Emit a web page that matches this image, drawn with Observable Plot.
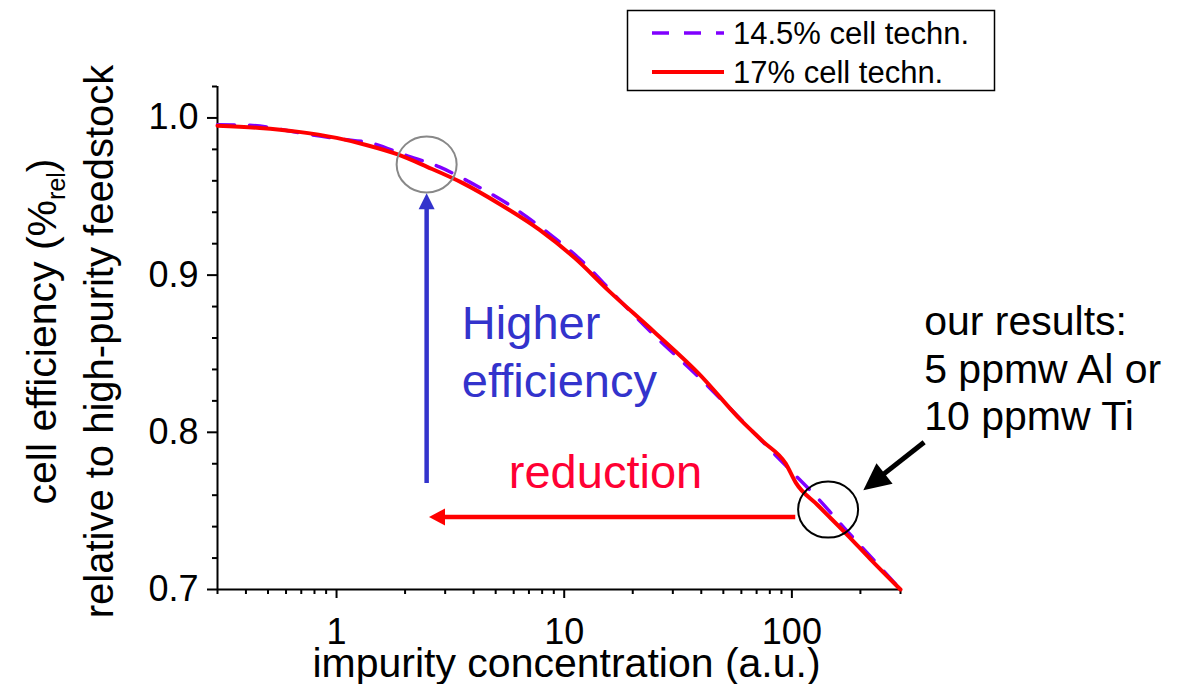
<!DOCTYPE html>
<html>
<head>
<meta charset="utf-8">
<script src="https://cdn.jsdelivr.net/npm/d3@7"></script>
<script src="https://cdn.jsdelivr.net/npm/@observablehq/plot@0.6"></script>
<style>
  html, body { margin: 0; padding: 0; background: #fff; }
  #wrap { position: relative; width: 1182px; height: 684px; font-family: "Liberation Sans", Arial, sans-serif; }
  #legend { position: absolute; left: 0; top: 0; }
</style>
</head>
<body>
<div id="wrap"></div>
<script>
// Relative cell efficiency vs. impurity concentration (log axis)
const seriesNames = ["14.5% cell techn.", "17% cell techn."];

// 14.5 % cell technology (dashed)
const lowX = [0.3, 0.4, 0.76, 1.03, 1.44, 1.99, 2.83, 3.83, 5.74, 8.6, 12.2, 18.3, 25.6, 35.3, 68, 94, 129, 174, 234, 300];
const lowY = [0.9956, 0.9954, 0.9895, 0.9867, 0.9838, 0.9765, 0.9688, 0.9593, 0.9447, 0.9263, 0.9078, 0.8811, 0.8599, 0.8411, 0.7998, 0.7788, 0.7585, 0.7375, 0.7172, 0.7];

// 17 % cell technology (solid)
const highX = [0.3, 0.46, 0.67, 1, 1.35, 1.83, 2.5, 3.57, 5.2, 7.8, 11.1, 15.7, 24.8, 39, 60, 75, 94, 104, 130, 178, 220, 300];
const highY = [0.995, 0.9936, 0.9913, 0.9873, 0.9828, 0.9771, 0.9689, 0.9587, 0.9453, 0.9288, 0.911, 0.89, 0.864, 0.8373, 0.8074, 0.7939, 0.7801, 0.768, 0.7536, 0.7337, 0.7197, 0.7];

// axis ticks
const xMajor = [1, 10, 100];
const xMinor = [0.3, 0.4, 0.5, 0.6, 0.7, 0.8, 0.9, 2, 3, 4, 5, 6, 7, 8, 9, 20, 30, 40, 50, 60, 70, 80, 90, 200, 300];
const yMajor = [0.7, 0.8, 0.9, 1.0];
const yMinor = [0.72, 0.74, 0.76, 0.78, 0.82, 0.84, 0.86, 0.88, 0.92, 0.94, 0.96, 0.98, 1.02];

const xTitle = "impurity concentration (a.u.)";
const yTitle1 = ["cell efficiency (%", "rel", ")"];
const yTitle2 = "relative to high-purity feedstock";

const lowData = lowX.map((x, i) => ({x, y: lowY[i]}));
const highData = highX.map((x, i) => ({x, y: highY[i]}));

const FONT = '"Liberation Sans", Arial, sans-serif';

const chart = Plot.plot({
  width: 1182,
  height: 684,
  marginLeft: 217,
  marginRight: 282,
  marginTop: 86,
  marginBottom: 95,
  style: {fontFamily: FONT, fontSize: "36px", color: "#000", background: "#fff", overflow: "visible"},
  x: {type: "log", domain: [0.3, 300]},
  y: {domain: [0.7, 1.02]},
  marks: [
    Plot.axisX({ticks: xMinor, tickSize: 5, strokeWidth: 2, tickFormat: () => "", label: null}),
    Plot.axisX({ticks: xMajor, tickSize: 9, tickPadding: 20, strokeWidth: 2, tickFormat: d => String(d), fontSize: 36, label: null}),
    Plot.axisY({ticks: yMinor, tickSize: 5, strokeWidth: 2, tickFormat: () => "", label: null}),
    Plot.axisY({ticks: yMajor, tickSize: 10, tickPadding: 9, strokeWidth: 2, tickFormat: d3.format(".1f"), fontSize: 36, label: null}),
    Plot.ruleY([0.7], {strokeWidth: 2}),
    Plot.ruleX([0.3], {strokeWidth: 2}),
    Plot.line(lowData, {x: "x", y: "y", stroke: "#8000ff", strokeWidth: 3.5, strokeDasharray: "17,15", curve: "monotone-x"}),
    Plot.line(highData, {x: "x", y: "y", stroke: "#ff0000", strokeWidth: 4, curve: "monotone-x"})
  ]
});

document.getElementById("wrap").appendChild(chart);

// annotations placed in data space through the chart's scales
const sx = chart.scale("x"), sy = chart.scale("y");
const X = v => sx.apply(v), Y = v => sy.apply(v);
const svg = d3.select(chart);
const ann = svg.append("g").attr("font-family", FONT).attr("text-anchor", "start");

const rings = [
  {x: 2.5, y: 0.9701, rx: 30, ry: 28, color: "#888888"},
  {x: 145, y: 0.7505, rx: 30, ry: 28, color: "#000000"}
];
for (const r of rings) {
  ann.append("ellipse").attr("cx", X(r.x)).attr("cy", Y(r.y)).attr("rx", r.rx).attr("ry", r.ry)
    .attr("fill", "none").attr("stroke", r.color).attr("stroke-width", 2);
}

const arrows = [
  {from: [2.5, 0.7674], to: [2.5, 0.9517], color: "#3333cc", width: 4.5, len: 16, half: 8},
  {from: [104, 0.7458], to: [2.56, 0.7458], color: "#ff0000", width: 4.5, len: 16, half: 8.5},
  {from: [383, 0.7934], to: [207, 0.7629], color: "#000000", width: 5, len: 27, half: 13}
];
for (const a of arrows) {
  const x1 = X(a.from[0]), y1 = Y(a.from[1]), x2 = X(a.to[0]), y2 = Y(a.to[1]);
  const L = Math.hypot(x2 - x1, y2 - y1), ux = (x2 - x1) / L, uy = (y2 - y1) / L;
  const bx = x2 - ux * a.len, by = y2 - uy * a.len;
  ann.append("line").attr("x1", x1).attr("y1", y1).attr("x2", bx + ux * 2).attr("y2", by + uy * 2)
    .attr("stroke", a.color).attr("stroke-width", a.width);
  ann.append("path")
    .attr("d", `M${x2},${y2}L${bx - uy * a.half},${by + ux * a.half}L${bx + uy * a.half},${by - ux * a.half}Z`)
    .attr("fill", a.color);
}

const notes = [
  {x: 3.57, y: 0.8589, lines: ["Higher", "efficiency"], size: 47, gap: 58, color: "#3333cc"},
  {x: 5.74, y: 0.7642, lines: ["reduction"], size: 47, gap: 0, color: "#ff0033"},
  {x: 383, y: 0.8615, lines: ["our results:", "5 ppmw Al or", "10 ppmw Ti"], size: 41, gap: 47.5, color: "#000000"}
];
for (const n of notes) {
  n.lines.forEach((t, i) => {
    ann.append("text").attr("x", X(n.x)).attr("y", Y(n.y) + i * n.gap)
      .attr("font-size", n.size).attr("fill", n.color).text(t);
  });
}

// axis titles
const xMid = (X(0.3) + X(300)) / 2 + 8;
ann.append("text").attr("x", xMid).attr("y", 677).attr("text-anchor", "middle")
  .attr("font-size", 41).text(xTitle);

const yMid = (Y(0.7) + Y(1.02)) / 2;
const t1 = ann.append("text").attr("transform", `translate(56,${yMid - 6}) rotate(-90)`)
  .attr("text-anchor", "middle").attr("font-size", 41);
t1.append("tspan").text(yTitle1[0]);
t1.append("tspan").attr("font-size", 25).attr("dy", 9).text(yTitle1[1]);
t1.append("tspan").attr("dy", -9).text(yTitle1[2]);
ann.append("text").attr("transform", `translate(113,${yMid + 4}) rotate(-90)`)
  .attr("text-anchor", "middle").attr("font-size", 40).text(yTitle2);

// legend box
const lg = d3.select("#wrap").append("svg").attr("id", "legend")
  .attr("width", 1182).attr("height", 100).style("font-family", FONT);
lg.append("rect").attr("x", 627.5).attr("y", 10.5).attr("width", 367).attr("height", 80)
  .attr("fill", "#fff").attr("stroke", "#000").attr("stroke-width", 1.5);
const legendStyles = [
  {stroke: "#8000ff", width: 3.5, dash: "17,15"},
  {stroke: "#ff0000", width: 4, dash: null}
];
seriesNames.forEach((name, i) => {
  const yy = 33 + i * 39;
  const s = legendStyles[i];
  lg.append("line").attr("x1", 652).attr("x2", 724).attr("y1", yy).attr("y2", yy)
    .attr("stroke", s.stroke).attr("stroke-width", s.width).attr("stroke-dasharray", s.dash);
  lg.append("text").attr("x", 733).attr("y", yy + 11).attr("font-size", 31).text(name);
});
</script>
</body>
</html>
